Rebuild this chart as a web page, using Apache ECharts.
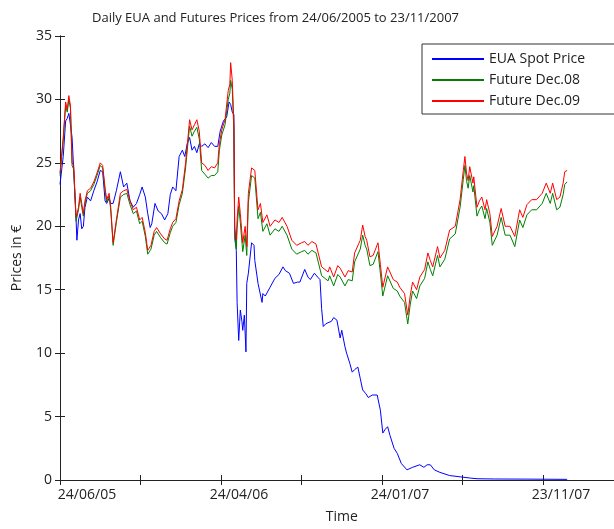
<!DOCTYPE html>
<html>
<head>
<meta charset="utf-8">
<script src="https://cdn.jsdelivr.net/npm/echarts@6/dist/echarts.min.js"></script>
<style>
  html, body { margin: 0; padding: 0; background: #fff; }
  #chart { width: 614px; height: 529px; }
</style>
</head>
<body>
<div id="chart"></div>
<script>
// x = trading-day index since 24/06/2005, y = price in €
const tickIdx = [0, 200, 400, 600];
const tickLabels = ['24/06/05', '24/04/06', '24/01/07', '23/11/07'];

const euaSpot = [
  [0,23.3],[4,25.5],[7,28.3],[9,28.5],[11,28.9],[13,28.0],[15,27.0],[17,24.5],[20,20.5],[21,18.9],
  [23,20.5],[25,21.0],[27,19.8],[29,20.0],[31,21.5],[34,22.3],[38,22.0],[42,22.8],[46,23.5],[50,24.4],
  [53,24.3],[56,22.0],[58,21.8],[61,22.2],[63,21.8],[66,21.8],[70,22.8],[75,24.3],[79,23.1],[83,23.4],
  [87,22.0],[91,21.5],[95,21.8],[99,22.5],[102,23.1],[106,22.3],[109,21.0],[112,19.9],[114,20.2],[118,21.8],
  [122,21.2],[126,21.0],[130,20.5],[134,21.0],[137,22.5],[140,23.1],[144,22.8],[148,25.5],[152,26.0],[155,25.5],
  [158,26.5],[161,27.0],[164,26.0],[167,26.3],[170,25.8],[173,26.5],[176,26.3],[180,26.5],[184,26.2],[188,26.6],
  [192,26.3],[196,26.3],[199,27.5],[203,28.3],[207,28.6],[210,29.8],[212,29.6],[214,29.0],[216,28.8],[217,20.0],
  [219,18.1],[220,14.0],[222,11.0],[224,13.4],[226,12.5],[227,11.8],[229,13.0],[231,10.1],[232,15.5],[234,16.3],
  [238,18.7],[241,18.5],[242,17.3],[246,15.5],[251,14.0],[252,14.7],[255,14.5],[261,15.2],[267,15.9],[272,16.2],
  [277,16.8],[280,16.5],[285,16.3],[290,15.5],[295,15.6],[298,15.6],[304,16.6],[308,16.0],[311,15.8],[316,16.3],
  [320,16.0],[323,15.8],[325,13.5],[327,12.1],[330,12.3],[333,12.4],[337,12.5],[340,12.8],[344,12.6],[348,11.2],
  [350,11.8],[354,10.5],[356,10.0],[360,9.2],[363,8.5],[366,8.7],[370,8.9],[373,8.0],[376,7.1],[380,6.8],
  [383,6.5],[388,6.7],[394,6.7],[398,5.5],[401,3.7],[404,4.0],[407,4.2],[410,3.5],[415,2.5],[419,2.1],
  [424,1.3],[431,0.8],[438,1.0],[447,1.2],[452,1.0],[456,1.2],[460,1.2],[465,0.8],[472,0.6],[484,0.35],
  [497,0.25],[510,0.15],[518,0.1],[540,0.08],[580,0.07],[630,0.05]
];

const futDec08 = [
  [0,24.0],[4,26.8],[7,29.5],[9,29.0],[11,30.0],[13,29.3],[15,24.8],[17,24.5],[20,20.4],[23,21.3],
  [25,22.3],[27,21.5],[29,20.8],[31,21.8],[34,22.6],[38,22.8],[42,23.3],[46,24.0],[50,24.8],[53,24.6],
  [56,22.8],[58,21.9],[61,22.4],[63,21.3],[66,18.5],[70,20.3],[75,22.3],[79,22.5],[83,22.6],[87,21.7],
  [91,21.0],[95,21.2],[99,20.2],[102,20.4],[106,19.2],[109,17.8],[113,18.2],[117,19.3],[120,19.6],[125,19.1],
  [130,18.7],[133,18.6],[137,19.5],[140,20.0],[144,20.3],[148,21.7],[152,22.6],[156,24.6],[159,26.6],[161,27.9],
  [164,27.1],[167,27.5],[170,27.8],[173,26.9],[176,24.4],[180,24.1],[184,23.8],[188,24.0],[192,24.0],[196,24.3],
  [198,26.0],[201,27.2],[205,28.0],[209,30.0],[211,30.5],[212,31.5],[214,30.8],[216,27.5],[217,19.0],[219,18.2],
  [220,19.8],[222,21.6],[224,20.3],[227,18.0],[230,19.3],[232,17.7],[234,21.9],[238,24.0],[242,23.8],[246,20.6],
  [249,21.1],[252,19.6],[257,20.2],[261,19.3],[267,19.8],[272,19.6],[276,20.0],[282,19.3],[288,18.2],[294,17.8],
  [300,18.0],[304,18.1],[308,17.8],[313,18.1],[318,17.9],[320,17.8],[325,16.1],[329,15.9],[333,15.7],[335,16.1],
  [340,15.3],[345,16.2],[348,16.0],[354,15.3],[358,15.8],[363,15.7],[366,17.2],[373,18.2],[376,19.3],[379,18.5],
  [381,18.2],[385,16.9],[389,17.0],[392,17.5],[395,18.0],[398,16.3],[401,14.5],[407,16.1],[414,15.1],[419,14.9],
  [422,14.5],[428,14.0],[432,12.3],[435,13.8],[438,14.9],[443,14.3],[447,15.3],[453,15.9],[457,17.2],[460,16.6],
  [463,16.1],[469,17.7],[472,16.8],[478,17.4],[484,19.0],[491,19.4],[497,21.5],[501,23.7],[503,24.8],[505,23.6],
  [507,23.0],[509,24.0],[513,22.7],[514,23.2],[518,20.8],[521,21.3],[524,21.6],[528,20.6],[530,21.4],[534,20.3],
  [537,18.5],[543,19.3],[548,20.7],[553,19.3],[559,19.3],[565,18.4],[571,20.5],[575,19.9],[580,20.9],[586,21.3],
  [592,21.3],[599,21.8],[604,22.6],[609,21.8],[612,22.6],[617,21.3],[621,21.5],[625,22.5],[627,23.3],[630,23.5]
];

const futDec09 = [
  [0,24.2],[4,27.0],[7,29.8],[9,29.2],[11,30.3],[13,29.5],[15,25.0],[17,24.8],[20,20.7],[23,21.5],
  [25,22.6],[27,21.8],[29,21.0],[31,22.0],[34,22.8],[38,23.0],[42,23.5],[46,24.2],[50,25.0],[53,24.8],
  [56,23.0],[58,22.1],[61,22.6],[63,21.5],[66,18.7],[70,20.5],[75,22.6],[79,22.8],[83,22.9],[87,22.0],
  [91,21.3],[95,21.5],[99,20.5],[102,20.7],[106,19.5],[109,18.1],[113,18.5],[117,19.6],[120,19.9],[125,19.4],
  [130,19.0],[133,18.9],[137,19.8],[140,20.3],[144,20.6],[148,22.0],[152,22.9],[156,25.0],[159,27.0],[161,28.4],
  [164,27.6],[167,28.0],[170,28.4],[173,27.5],[176,25.0],[180,24.8],[184,24.4],[188,24.7],[192,24.6],[196,25.0],
  [198,26.5],[201,27.6],[205,28.4],[209,30.7],[211,31.2],[212,32.9],[214,31.5],[216,28.0],[217,19.7],[219,18.9],
  [220,20.5],[222,22.3],[224,21.0],[227,18.7],[230,20.0],[232,18.4],[234,22.6],[238,24.6],[242,24.4],[246,21.3],
  [249,21.8],[252,20.3],[257,20.9],[261,20.0],[267,20.5],[272,20.3],[276,20.7],[282,20.0],[288,18.9],[294,18.5],
  [300,18.7],[304,18.8],[308,18.5],[313,18.8],[318,18.6],[320,18.5],[325,16.8],[329,16.6],[333,16.4],[335,16.8],
  [340,16.0],[345,16.9],[348,16.7],[354,16.0],[358,16.5],[363,16.4],[366,17.9],[373,18.9],[376,20.1],[379,19.2],
  [381,18.9],[385,17.6],[389,17.7],[392,18.2],[395,18.7],[398,17.0],[401,15.2],[407,16.8],[414,15.8],[419,15.6],
  [422,15.2],[428,14.7],[432,13.0],[435,14.5],[438,15.6],[443,15.0],[447,16.0],[453,16.6],[457,17.9],[460,17.3],
  [463,16.8],[469,18.4],[472,17.5],[478,18.1],[484,19.7],[491,20.0],[497,22.1],[501,24.4],[503,25.5],[505,24.2],
  [507,23.6],[509,24.7],[513,23.4],[514,23.9],[518,21.5],[521,22.0],[524,22.3],[528,21.3],[530,22.1],[534,21.0],
  [537,19.2],[543,20.0],[548,21.4],[553,20.0],[559,20.0],[565,19.2],[571,21.3],[575,20.7],[580,21.7],[586,22.1],
  [592,22.1],[599,22.6],[604,23.4],[609,22.6],[612,23.4],[617,22.1],[621,22.3],[625,23.4],[627,24.3],[630,24.4]
];

const font = 'Open Sans';
const axisColor = '#222';

const myChart = echarts.init(document.getElementById('chart'), null, { renderer: 'canvas' });

const option = {
  animation: false,
  backgroundColor: '#fff',
  title: {
    text: 'Daily EUA and Futures Prices from 24/06/2005 to 23/11/2007',
    left: 87,
    top: 7,
    textStyle: { fontFamily: font, fontSize: 13, fontWeight: 'normal', color: '#222' }
  },
  legend: {
    orient: 'vertical',
    left: 422,
    top: 44,
    padding: [8, 40, 6, 10],
    itemWidth: 52,
    itemHeight: 2,
    itemGap: 7,
    icon: 'rect',
    borderColor: '#333',
    borderWidth: 1,
    textStyle: { fontFamily: font, fontSize: 14, color: '#222' },
    data: ['EUA Spot Price', 'Future Dec.08', 'Future Dec.09']
  },
  // plot box runs past the right edge of the picture, as in the original
  grid: { left: 60, top: 36, width: 563.5, height: 444, outerBoundsMode: 'none', containLabel: false },
  xAxis: [
    {
      type: 'value',
      min: 0,
      max: 700,
      interval: 100,
      name: 'Time',
      nameLocation: 'middle',
      nameGap: 30,
      nameTextStyle: { fontFamily: font, fontSize: 14, color: '#222' },
      axisLine: { lineStyle: { color: axisColor, width: 1 } },
      axisTick: { inside: true, length: 5, lineStyle: { color: axisColor } },
      splitLine: { show: false },
      axisLabel: {
        fontFamily: font,
        fontSize: 14,
        color: '#222',
        margin: 8,
        formatter: function (v) {
          const i = tickIdx.indexOf(v);
          if (i < 0) return '';
          return i === 0 ? '{first|' + tickLabels[i] + '}' : '{rest|' + tickLabels[i] + '}';
        },
        rich: {
          first: { fontFamily: font, fontSize: 14, color: '#222', padding: [0, 0, 0, 54] },
          rest: { fontFamily: font, fontSize: 14, color: '#222', padding: [0, 0, 0, 36] }
        }
      }
    },
    {
      type: 'value',
      position: 'top',
      min: 0,
      max: 700,
      interval: 100,
      axisLine: { lineStyle: { color: axisColor, width: 1 } },
      axisTick: { inside: true, length: 5, lineStyle: { color: axisColor } },
      axisLabel: { show: false },
      splitLine: { show: false }
    }
  ],
  yAxis: [
    {
      type: 'value',
      min: 0,
      max: 35,
      interval: 5,
      name: 'Prices in €',
      nameLocation: 'middle',
      nameGap: 36,
      nameTextStyle: { fontFamily: font, fontSize: 14, color: '#222' },
      axisLine: { show: true, lineStyle: { color: axisColor, width: 1 } },
      axisTick: { show: true, inside: true, length: 5, lineStyle: { color: axisColor } },
      splitLine: { show: false },
      axisLabel: { fontFamily: font, fontSize: 14, color: '#222', margin: 8 }
    },
    {
      type: 'value',
      position: 'right',
      min: 0,
      max: 35,
      interval: 5,
      axisLine: { show: true, lineStyle: { color: axisColor, width: 1 } },
      axisTick: { show: true, inside: true, length: 5, lineStyle: { color: axisColor } },
      axisLabel: { show: false },
      splitLine: { show: false }
    }
  ],
  series: [
    {
      name: 'EUA Spot Price',
      type: 'line',
      data: euaSpot,
      showSymbol: false,
      color: '#0000ff',
      lineStyle: { width: 1, color: '#0000ff' }
    },
    {
      name: 'Future Dec.08',
      type: 'line',
      data: futDec08,
      showSymbol: false,
      color: '#008000',
      lineStyle: { width: 1, color: '#008000' }
    },
    {
      name: 'Future Dec.09',
      type: 'line',
      data: futDec09,
      showSymbol: false,
      color: '#ff0000',
      lineStyle: { width: 1, color: '#ff0000' }
    }
  ]
};

myChart.setOption(option);
window.addEventListener('resize', function () {
  myChart.resize();
});
</script>
</body>
</html>
